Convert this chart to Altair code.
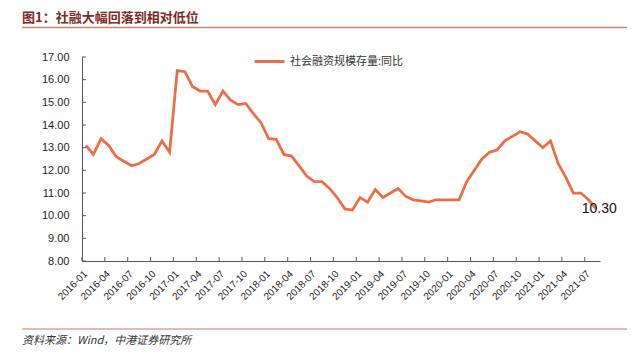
import altair as alt
import pandas as pd

# ---- data ----
years = ["2016", "2017", "2018", "2019", "2020", "2021"]
month_nums = ["01", "02", "03", "04", "05", "06", "07", "08", "09", "10", "11", "12"]
months = [f"{y}-{m}" for y in years for m in month_nums][:68]  # 2016-01 .. 2021-08

v2016 = [13.1, 12.7, 13.4, 13.1, 12.6, 12.4, 12.2, 12.3, 12.5, 12.7, 13.3, 12.8]
v2017 = [16.4, 16.35, 15.7, 15.5, 15.5, 14.9, 15.5, 15.1, 14.9, 14.95, 14.5, 14.1]
v2018 = [13.4, 13.37, 12.7, 12.63, 12.2, 11.75, 11.5, 11.5, 11.2, 10.8, 10.3, 10.25]
v2019 = [10.8, 10.6, 11.15, 10.8, 11.0, 11.2, 10.85, 10.7, 10.65, 10.6, 10.7, 10.7]
v2020 = [10.7, 10.7, 11.5, 12.0, 12.5, 12.8, 12.9, 13.3, 13.5, 13.7, 13.6, 13.3]
v2021 = [13.0, 13.3, 12.3, 11.7, 11.0, 11.0, 10.7, 10.3]
values = v2016 + v2017 + v2018 + v2019 + v2020 + v2021

series_name = "社会融资规模存量:同比"
tick_months = months[::3]
y_ticks = [8, 9, 10, 11, 12, 13, 14, 15, 16, 17]

title_text = "图1：社融大幅回落到相对低位"
source_text = "资料来源：Wind，中港证券研究所"

LINE_COLOR = "#ED6D46"
AXIS_COLOR = "#555555"
W, H = 518, 204

df = pd.DataFrame({"month": months, "value": values, "series": series_name})
df_last = df.tail(1)
df_xt = pd.DataFrame({"month": tick_months})
df_yt = pd.DataFrame({"value": y_ticks})

x_scale = alt.Scale(type="band", domain=months, paddingInner=0, paddingOuter=0)
y_scale = alt.Scale(domain=[8, 17], nice=False, zero=False)

x_axis = alt.Axis(values=tick_months, bandPosition=0, labelAngle=315,
                  labelAlign="right", labelBaseline="middle", labelPadding=11,
                  tickSize=0, title=None, labelFontSize=10,
                  labelFont="Liberation Sans", labelColor="#222",
                  domainColor=AXIS_COLOR, labelOverlap=False, grid=False)
y_axis = alt.Axis(values=y_ticks, format=".2f", tickSize=0, labelPadding=13,
                  title=None, grid=False, labelFontSize=11,
                  labelFont="Liberation Sans", labelColor="#222",
                  domainColor=AXIS_COLOR)

line = alt.Chart(df).mark_line(strokeWidth=2.75).encode(
    x=alt.X("month:O", scale=x_scale, sort=None, axis=x_axis),
    y=alt.Y("value:Q", scale=y_scale, axis=y_axis),
    color=alt.Color("series:N", scale=alt.Scale(range=[LINE_COLOR]),
                    legend=alt.Legend(title=None, orient="none", legendX=171, legendY=-12,
                                      symbolType="stroke", symbolSize=900,
                                      symbolStrokeWidth=3, labelFont="Noto Sans CJK SC",
                                      labelFontSize=11, labelColor="#333",
                                      labelOffset=4, padding=0)),
)

last_label = alt.Chart(df_last).mark_text(
    dx=3, fontSize=14, font="Liberation Sans", color="#111",
    align="center", baseline="middle"
).encode(
    x=alt.X("month:O", scale=x_scale, sort=None, axis=x_axis),
    y=alt.Y("value:Q", scale=y_scale, axis=y_axis),
    text=alt.Text("value:Q", format=".2f"),
)

x_ticks = alt.Chart(df_xt).mark_rule(color=AXIS_COLOR, strokeWidth=1).encode(
    x=alt.X("month:O", scale=x_scale, sort=None, bandPosition=0, axis=x_axis),
    y=alt.value(H - 4), y2=alt.value(H),
)

y_tick_marks = alt.Chart(df_yt).mark_rule(color=AXIS_COLOR, strokeWidth=1).encode(
    y=alt.Y("value:Q", scale=y_scale, axis=y_axis),
    x=alt.value(0), x2=alt.value(4),
)

title_mark = alt.Chart(pd.DataFrame({"t": [title_text]})).mark_text(
    align="left", baseline="middle", fontSize=13, fontWeight="bold",
    font="Noto Sans CJK SC", color="#7d2a1f"
).encode(x=alt.value(-60), y=alt.value(-39), text="t:N")

title_rule = alt.Chart(pd.DataFrame({"a": [0]})).mark_rule(
    color="#c98572", strokeWidth=1.3
).encode(x=alt.value(-60), x2=alt.value(545), y=alt.value(-29.5))

source_rule = alt.Chart(pd.DataFrame({"a": [0]})).mark_rule(
    color="#e2a596", strokeWidth=1.5
).encode(x=alt.value(-60), x2=alt.value(545), y=alt.value(272))

source_mark = alt.Chart(pd.DataFrame({"t": [source_text]})).mark_text(
    align="left", baseline="middle", fontSize=11, fontStyle="italic",
    font="Noto Sans CJK SC", color="#333"
).encode(x=alt.value(-60), y=alt.value(284), text="t:N")

chart = alt.layer(
    line, last_label, x_ticks, y_tick_marks,
    title_mark, title_rule, source_rule, source_mark
).properties(
    width=W, height=H,
    autosize=alt.AutoSizeParams(type="none"),
    padding={"left": 74, "top": 49, "right": 35, "bottom": 86},
).configure_view(stroke=None)

chart.save("out.html", embed_options={"renderer": "svg", "actions": False})
